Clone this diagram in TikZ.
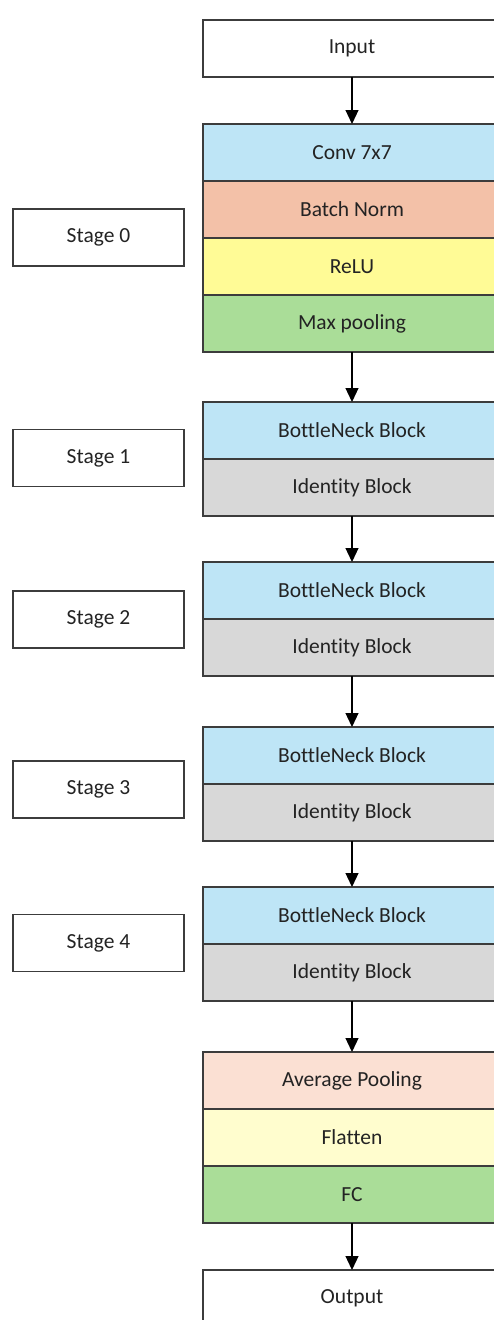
\documentclass[tikz,border=0pt]{standalone}
\usepackage{fontspec}
\setmainfont{Carlito}[Ligatures=NoCommon]
\usepackage{tikz}
\usetikzlibrary{arrows.meta,positioning}
\usepackage{xcolor}
\definecolor{convblue}  {RGB}{190,229,246}
\definecolor{normsalmon}{RGB}{243,193,168}
\definecolor{reluyellow}{RGB}{255,251,150}
\definecolor{poolgreen} {RGB}{170,221,152}
\definecolor{identgray} {RGB}{216,216,216}
\definecolor{avgsalmon} {RGB}{251,224,211}
\definecolor{flatyellow}{RGB}{255,253,206}
\definecolor{edgegray}  {RGB}{60,60,60}
\definecolor{textgray}  {RGB}{35,35,35}

\begin{document}
\begin{tikzpicture}[
    x=1pt, y=-1pt,
    node distance=0pt,
    layer/.style={draw=edgegray, rectangle, minimum width=298pt, minimum height=57pt, line width=1.2pt, outer sep=0pt, inner sep=0pt, text=textgray, font=\fontsize{21.5}{25}\selectfont},
    plain/.style={layer, fill=white},
    conv/.style={layer, fill=convblue},
    norm/.style={layer, fill=normsalmon},
    relu/.style={layer, fill=reluyellow},
    pool/.style={layer, fill=poolgreen},
    ident/.style={layer, fill=identgray},
    avg/.style={layer, fill=avgsalmon},
    flat/.style={layer, fill=flatyellow},
    stagebox/.style={layer, fill=white, minimum width=171pt},
    arrow/.style={-{Triangle[width=13pt,length=14pt]}, line width=1.2pt, draw=black}
]
    \clip (0,0) rectangle (494,1320);
    \fill[white] (0,0) rectangle (494,1320);

    \node[plain] (input) at (352,48.5) {Input};

    % stage 0
    \node[conv] (conv) [below=47pt of input] {Conv 7x7};
    \node[norm] (bn) [below=of conv] {Batch Norm};
    \node[relu] (relu) [below=of bn] {ReLU};
    \node[pool] (maxpool) [below=of relu] {Max pooling};

    % stages 1-4
    \node[conv] (neck1) [below=50pt of maxpool] {BottleNeck Block};
    \node[ident] (ident1) [below=of neck1] {Identity Block};
    \node[conv] (neck2) [below=46pt of ident1] {BottleNeck Block};
    \node[ident] (ident2) [below=of neck2] {Identity Block};
    \node[conv] (neck3) [below=51pt of ident2] {BottleNeck Block};
    \node[ident] (ident3) [below=of neck3] {Identity Block};
    \node[conv] (neck4) [below=46pt of ident3] {BottleNeck Block};
    \node[ident] (ident4) [below=of neck4] {Identity Block};

    % head
    \node[avg] (avgpool) [below=51pt of ident4] {Average Pooling};
    \node[flat] (flatten) [below=of avgpool] {Flatten};
    \node[pool] (fc) [below=of flatten] {FC};
    \node[plain] (output) [below=47pt of fc] {Output};

    % stage labels
    \node[stagebox] (stage0) at (98.5,237.5) {Stage 0};
    \node[stagebox] (stage1) at (98.5,458) {Stage 1};
    \node[stagebox] (stage2) at (98.5,619.5) {Stage 2};
    \node[stagebox] (stage3) at (98.5,789.5) {Stage 3};
    \node[stagebox] (stage4) at (98.5,943) {Stage 4};

    \draw[arrow] (input) -- (conv);
    \draw[arrow] (maxpool) -- (neck1);
    \draw[arrow] (ident1) -- (neck2);
    \draw[arrow] (ident2) -- (neck3);
    \draw[arrow] (ident3) -- (neck4);
    \draw[arrow] (ident4) -- (avgpool);
    \draw[arrow] (fc) -- (output);
\end{tikzpicture}
\end{document}
